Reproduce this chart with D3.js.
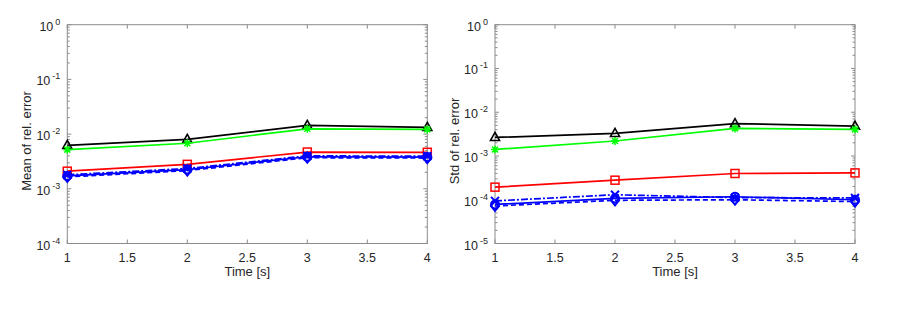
<!DOCTYPE html>
<meta charset="utf-8">
<style>
    body { margin: 0; background: #fff; }
    svg { display: block; }
    text { font-family: "Liberation Sans", Arial, Helvetica, sans-serif; fill: #262626; }
    .frame line, .frame path { stroke: #8c8c8c; }
</style>
<body>
<script src="https://d3js.org/d3.v7.min.js"></script>
<script>

    var times = [1, 2, 3, 4];
    var xTicks = [1, 1.5, 2, 2.5, 3, 3.5, 4];

    // left panel: mean of relative error
    var meanBlack = [6.2e-3, 8.0e-3, 1.44e-2, 1.33e-2];
    var meanGreen = [5.2e-3, 6.8e-3, 1.25e-2, 1.22e-2];
    var meanRed = [2.1e-3, 2.8e-3, 4.7e-3, 4.65e-3];
    var meanBlueDashDot = [1.8e-3, 2.35e-3, 4.0e-3, 3.95e-3];
    var meanBlueSolid = [1.72e-3, 2.25e-3, 3.85e-3, 3.8e-3];
    var meanBlueDashed = [1.65e-3, 2.15e-3, 3.7e-3, 3.65e-3];

    // right panel: std of relative error
    var stdBlack = [2.65e-3, 3.27e-3, 5.5e-3, 4.8e-3];
    var stdGreen = [1.41e-3, 2.2e-3, 4.27e-3, 4.05e-3];
    var stdRed = [1.94e-4, 2.8e-4, 3.98e-4, 4.1e-4];
    var stdBlueDashDot = [9.4e-5, 1.3e-4, 1.12e-4, 1.1e-4];
    var stdBlueSolid = [7.8e-5, 1.07e-4, 1.17e-4, 1.0e-4];
    var stdBlueDashed = [7.2e-5, 9.7e-5, 1.0e-4, 9.1e-5];

    var width = 899, height = 314;

    var svg = d3.select("body").append("svg")
        .attr("width", width)
        .attr("height", height);

    function styles(vals) {
        return [
            { v: vals[0], color: "#000000", dash: null, marker: "triangle" },
            { v: vals[1], color: "#00ff00", dash: null, marker: "asterisk" },
            { v: vals[2], color: "#ff0000", dash: null, marker: "square" },
            { v: vals[3], color: "#0000ff", dash: "7,2,2,2", marker: "cross" },
            { v: vals[4], color: "#0000ff", dash: null, marker: "circle" },
            { v: vals[5], color: "#0000ff", dash: "5,3", marker: "diamond" }
        ];
    }

    function drawMarker(g, type, color) {
        var s = 4;
        if (type == "triangle") {
            g.append("path").attr("d", "M0," + (-s - 1) + "L" + (s + 0.5) + "," + (s - 1) + "L" + (-s - 0.5) + "," + (s - 1) + "Z")
                .attr("fill", "none").attr("stroke", color).attr("stroke-width", 1.6);
        } else if (type == "square") {
            g.append("rect").attr("x", -s).attr("y", -s).attr("width", 2 * s).attr("height", 2 * s)
                .attr("fill", "none").attr("stroke", color).attr("stroke-width", 1.5);
        } else if (type == "circle") {
            g.append("circle").attr("r", s).attr("fill", "none").attr("stroke", color).attr("stroke-width", 2);
        } else if (type == "diamond") {
            g.append("path").attr("d", "M0," + (-s - 1) + "L" + s + ",0L0," + (s + 1) + "L" + (-s) + ",0Z")
                .attr("fill", "none").attr("stroke", color).attr("stroke-width", 2);
        } else if (type == "cross") {
            g.append("path").attr("d", "M-4,-4L4,4M-4,4L4,-4")
                .attr("stroke", color).attr("stroke-width", 2);
        } else if (type == "asterisk") {
            g.append("path").attr("d", "M-4,0L4,0M0,-4L0,4M-3,-3L3,3M-3,3L3,-3")
                .attr("stroke", color).attr("stroke-width", 1.5);
        }
    }

    function panel(left, right, yMin, yLabel, labelX, series) {
        var top = 24.7, bottom = 243.5;

        var x = d3.scaleLinear().domain([1, 4]).range([left, right]);
        var y = d3.scaleLog().domain([yMin, 1]).range([bottom, top]);

        var g = svg.append("g");
        var frame = g.append("g").attr("class", "frame");

        frame.append("rect")
            .attr("x", left).attr("y", top)
            .attr("width", right - left).attr("height", bottom - top)
            .attr("fill", "none").attr("stroke", "#8c8c8c").attr("stroke-width", 1);

        // x ticks (inside, bottom and top)
        xTicks.forEach(function (t) {
            frame.append("line").attr("x1", x(t)).attr("x2", x(t)).attr("y1", bottom).attr("y2", bottom - 4);
            frame.append("line").attr("x1", x(t)).attr("x2", x(t)).attr("y1", top).attr("y2", top + 4);
            g.append("text")
                .attr("x", x(t)).attr("y", bottom + 18.5)
                .attr("text-anchor", "middle")
                .style("font-size", "12.5px")
                .text(t);
        });

        // y ticks: decades and minor ticks
        var lo = Math.round(Math.log10(yMin));
        for (var e = lo; e <= 0; e++) {
            var yy = y(Math.pow(10, e));
            frame.append("line").attr("x1", left).attr("x2", left + 4).attr("y1", yy).attr("y2", yy);
            frame.append("line").attr("x1", right).attr("x2", right - 4).attr("y1", yy).attr("y2", yy);
            var lab = g.append("text")
                .attr("x", left - 7).attr("y", yy + 6)
                .attr("text-anchor", "end")
                .style("font-size", "12.5px");
            lab.append("tspan").text("10");
            lab.append("tspan").attr("dy", -6).attr("dx", 2).style("font-size", "9px").text(e);
            if (e < 0) {
                for (var m = 2; m <= 9; m++) {
                    var ym = y(m * Math.pow(10, e));
                    frame.append("line").attr("x1", left).attr("x2", left + 2.5).attr("y1", ym).attr("y2", ym);
                    frame.append("line").attr("x1", right).attr("x2", right - 2.5).attr("y1", ym).attr("y2", ym);
                }
            }
        }
        frame.selectAll("line").attr("stroke-width", 1);

        g.append("text")
            .attr("x", (left + right) / 2).attr("y", bottom + 32.5)
            .attr("text-anchor", "middle")
            .style("font-size", "13px")
            .text("Time [s]");

        g.append("text")
            .attr("transform", "translate(" + labelX + ",141) rotate(-90)")
            .attr("text-anchor", "middle")
            .style("font-size", "13px")
            .text(yLabel);

        var line = d3.line()
            .x(function (d, i) { return x(times[i]); })
            .y(function (d) { return y(d); });

        series.forEach(function (s) {
            g.append("path")
                .attr("d", line(s.v))
                .attr("fill", "none")
                .attr("stroke", s.color)
                .attr("stroke-width", 1.7)
                .attr("stroke-dasharray", s.dash);
            s.v.forEach(function (d, i) {
                var mg = g.append("g").attr("transform", "translate(" + x(times[i]) + "," + y(d) + ")");
                drawMarker(mg, s.marker, s.color);
            });
        });
    }

    panel(67.3, 427.3, 1e-4, "Mean of rel. error", 31, 
        styles([meanBlack, meanGreen, meanRed, meanBlueDashDot, meanBlueSolid, meanBlueDashed]));
    panel(495, 855, 1e-5, "Std of rel. error", 459,
        styles([stdBlack, stdGreen, stdRed, stdBlueDashDot, stdBlueSolid, stdBlueDashed]));

</script>
</body>
